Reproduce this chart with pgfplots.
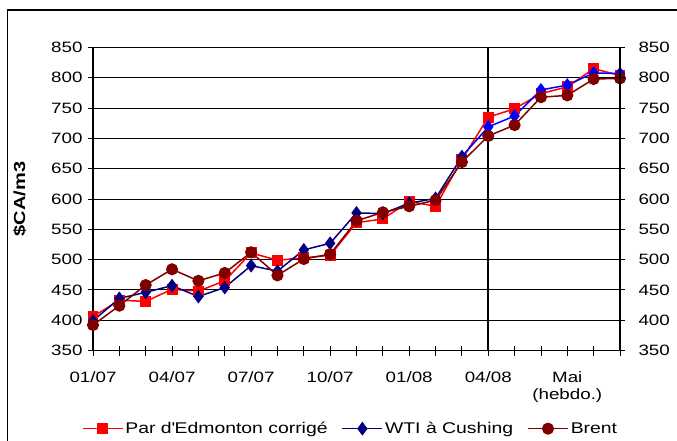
\documentclass[border=0pt]{standalone}
\usepackage{fontspec}
\setmainfont{Liberation Sans}[FakeStretch=1.25]
\usepackage{pgfplots}
\pgfplotsset{compat=1.18}
\definecolor{navyc}{RGB}{0,0,128}
\definecolor{brentc}{RGB}{128,0,0}
\definecolor{redc}{RGB}{255,0,0}
\definecolor{bluec}{RGB}{0,0,255}
\newcommand{\fs}{\fontsize{15}{17}\selectfont}
\pgfplotstableread{
x par wti brent
0 406 399 392
1 433 436 424
2 431 446 458
3 451 457 484
4 448 439 465
5 465 454 478
6 511 490 512
7 499 481 474
8 503 516 501
9 507 527 509
10 561 577 564
11 567 576 578
12 596 593 588
13 588 601 598
14 665 670 661
15 735 719 704
16 749 737 722
17 774 780 768
18 785 788 771
19 815 808 798
20 804 807 799
}\data
\begin{document}
\begin{tikzpicture}
\path[use as bounding box] (0pt,0pt) rectangle (677pt,440pt);
\draw[line width=1.3pt] (7.5pt,-5pt) -- (7.5pt,430pt) -- (690pt,430pt);
\begin{axis}[
  at={(93pt,89.5pt)}, anchor=south west,
  scale only axis, width=527pt, height=303pt,
  xmin=0, xmax=20, ymin=350, ymax=850,
  ytick={350,400,...,850},
  xtick={0,...,20},
  xticklabels={01/07,,,04/07,,,07/07,,,10/07,,,01/08,,,04/08,,,{Mai\\(hebdo.)},,},
  xtick pos=bottom, ytick pos=left,
  ymajorgrids, grid style={black, line width=0.9pt},
  axis line style={black, line width=1.1pt},
  tick style={black, line width=0.9pt},
  tick align=center, major tick length=10pt,
  /pgf/number format/assume math mode=true,
  ticklabel style={font=\fs},
  xticklabel style={align=center, yshift=-13pt},
  yticklabel style={xshift=-2pt},
  ylabel={\bfseries\fontsize{16}{18}\selectfont \$CA/m3},
  ylabel style={at={(axis description cs:-0.139,0.5)}, anchor=center},
  legend style={at={(axis description cs:0.4886,-0.258)}, anchor=center,
    draw=none, fill=none, font=\fontsize{15.5}{17}\selectfont, legend columns=3,
    /tikz/every even column/.append style={column sep=12pt},
    inner sep=0pt},
  legend image code/.code={\draw[mark repeat=2,mark phase=2] plot coordinates {(0pt,0pt)(20pt,0pt)(40pt,0pt)};},
  clip=false,
]
\addplot[black, line width=1.6pt, no marks, forget plot] coordinates {(15,350) (15,850)};
\addplot[redc, line width=1.5pt, mark=square*, mark size=4.7pt, mark options={solid}] table[x=x,y=par] {\data};
\addlegendentry{Par d\textquotesingle Edmonton corrigé}
\addplot[navyc, line width=1.5pt, mark=diamond*, mark size=5.7pt] table[x=x,y=wti, restrict x to domain=0:14] {\data};
\addlegendentry{WTI à Cushing}
\addplot[bluec, line width=1.5pt, mark=diamond*, mark size=5.7pt, mark indices={2,3,4,5,6,7}, forget plot] table[x=x,y=wti, restrict x to domain=14:20] {\data};
\addplot[brentc, line width=1.5pt, mark=*, mark size=5.3pt] table[x=x,y=brent] {\data};
\addlegendentry{Brent}
\end{axis}
\begin{axis}[
  at={(93pt,89.5pt)}, anchor=south west,
  scale only axis, width=527pt, height=303pt,
  xmin=0, xmax=20, ymin=350, ymax=850,
  ytick={350,400,...,850},
  axis x line=none, axis y line*=right,
  axis line style={black, line width=1.1pt},
  tick style={black, line width=0.9pt},
  tick align=center, major tick length=10pt,
  /pgf/number format/assume math mode=true,
  ticklabel style={font=\fs},
  yticklabel style={xshift=10pt},
]
\addplot[draw=none, forget plot] coordinates {(0,400)};
\end{axis}
\end{tikzpicture}
\end{document}
